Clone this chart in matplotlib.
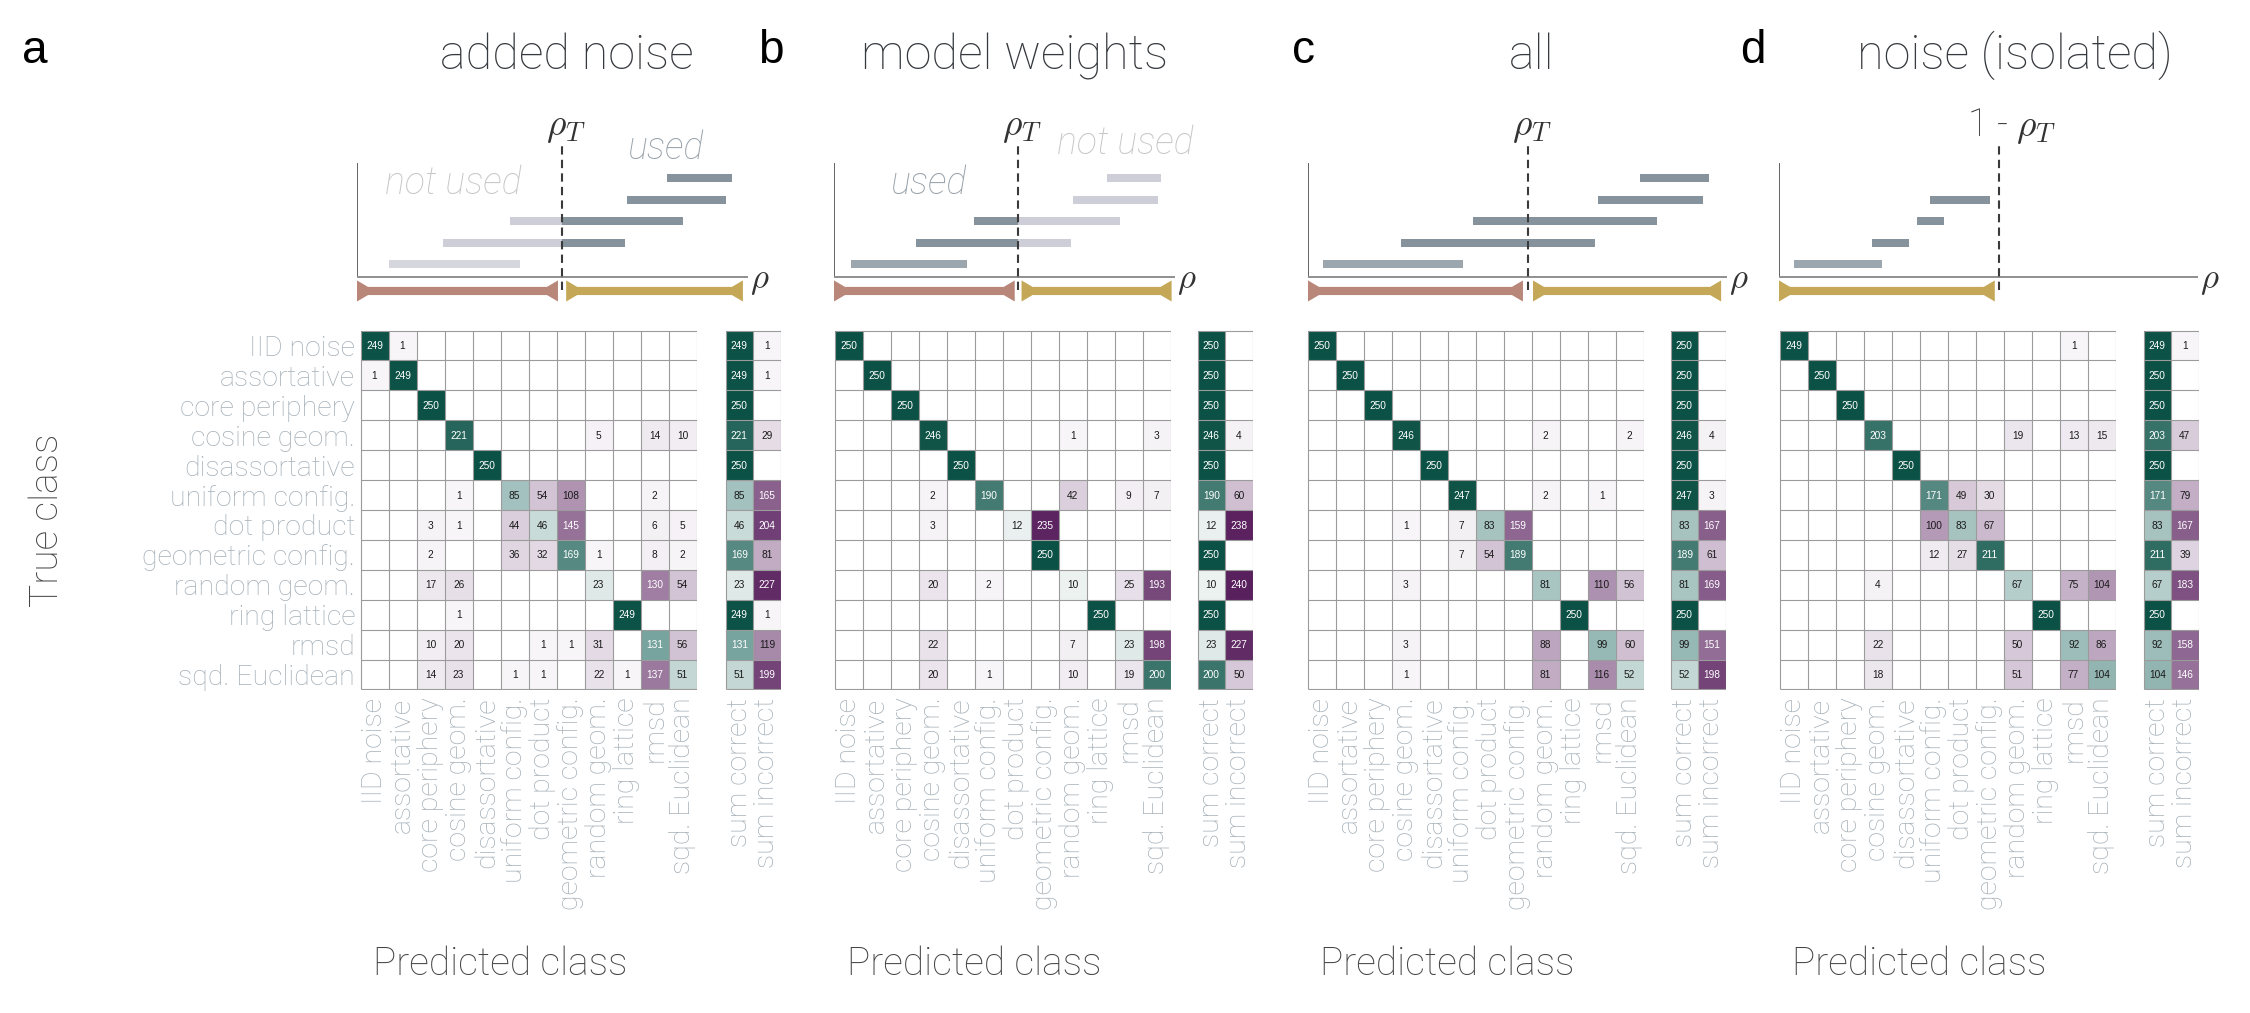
import numpy as np
import matplotlib
matplotlib.use("Agg")
import matplotlib.pyplot as plt
from matplotlib.colors import LinearSegmentedColormap, Normalize
from matplotlib.patches import Polygon
from matplotlib import font_manager

# ---------------------------------------------------------------- data
classes = ["IID noise", "assortative", "core periphery", "cosine geom.",
           "disassortative", "uniform config.", "dot product",
           "geometric config.", "random geom.", "ring lattice", "rmsd",
           "sqd. Euclidean"]
sum_labels = ["sum correct", "sum incorrect"]
titles = ["added noise", "model weights", "all", "noise (isolated)"]
letters = ["a", "b", "c", "d"]

# rows = true class, cols = predicted class
cm_added_noise = np.array([
    [249, 1, 0, 0, 0, 0, 0, 0, 0, 0, 0, 0],
    [1, 249, 0, 0, 0, 0, 0, 0, 0, 0, 0, 0],
    [0, 0, 250, 0, 0, 0, 0, 0, 0, 0, 0, 0],
    [0, 0, 0, 221, 0, 0, 0, 0, 5, 0, 14, 10],
    [0, 0, 0, 0, 250, 0, 0, 0, 0, 0, 0, 0],
    [0, 0, 0, 1, 0, 85, 54, 108, 0, 0, 2, 0],
    [0, 0, 3, 1, 0, 44, 46, 145, 0, 0, 6, 5],
    [0, 0, 2, 0, 0, 36, 32, 169, 1, 0, 8, 2],
    [0, 0, 17, 26, 0, 0, 0, 0, 23, 0, 130, 54],
    [0, 0, 0, 1, 0, 0, 0, 0, 0, 249, 0, 0],
    [0, 0, 10, 20, 0, 0, 1, 1, 31, 0, 131, 56],
    [0, 0, 14, 23, 0, 1, 1, 0, 22, 1, 137, 51]])

cm_model_weights = np.array([
    [250, 0, 0, 0, 0, 0, 0, 0, 0, 0, 0, 0],
    [0, 250, 0, 0, 0, 0, 0, 0, 0, 0, 0, 0],
    [0, 0, 250, 0, 0, 0, 0, 0, 0, 0, 0, 0],
    [0, 0, 0, 246, 0, 0, 0, 0, 1, 0, 0, 3],
    [0, 0, 0, 0, 250, 0, 0, 0, 0, 0, 0, 0],
    [0, 0, 0, 2, 0, 190, 0, 0, 42, 0, 9, 7],
    [0, 0, 0, 3, 0, 0, 12, 235, 0, 0, 0, 0],
    [0, 0, 0, 0, 0, 0, 0, 250, 0, 0, 0, 0],
    [0, 0, 0, 20, 0, 2, 0, 0, 10, 0, 25, 193],
    [0, 0, 0, 0, 0, 0, 0, 0, 0, 250, 0, 0],
    [0, 0, 0, 22, 0, 0, 0, 0, 7, 0, 23, 198],
    [0, 0, 0, 20, 0, 1, 0, 0, 10, 0, 19, 200]])

cm_all = np.array([
    [250, 0, 0, 0, 0, 0, 0, 0, 0, 0, 0, 0],
    [0, 250, 0, 0, 0, 0, 0, 0, 0, 0, 0, 0],
    [0, 0, 250, 0, 0, 0, 0, 0, 0, 0, 0, 0],
    [0, 0, 0, 246, 0, 0, 0, 0, 2, 0, 0, 2],
    [0, 0, 0, 0, 250, 0, 0, 0, 0, 0, 0, 0],
    [0, 0, 0, 0, 0, 247, 0, 0, 2, 0, 1, 0],
    [0, 0, 0, 1, 0, 7, 83, 159, 0, 0, 0, 0],
    [0, 0, 0, 0, 0, 7, 54, 189, 0, 0, 0, 0],
    [0, 0, 0, 3, 0, 0, 0, 0, 81, 0, 110, 56],
    [0, 0, 0, 0, 0, 0, 0, 0, 0, 250, 0, 0],
    [0, 0, 0, 3, 0, 0, 0, 0, 88, 0, 99, 60],
    [0, 0, 0, 1, 0, 0, 0, 0, 81, 0, 116, 52]])

cm_noise_isolated = np.array([
    [249, 0, 0, 0, 0, 0, 0, 0, 0, 0, 1, 0],
    [0, 250, 0, 0, 0, 0, 0, 0, 0, 0, 0, 0],
    [0, 0, 250, 0, 0, 0, 0, 0, 0, 0, 0, 0],
    [0, 0, 0, 203, 0, 0, 0, 0, 19, 0, 13, 15],
    [0, 0, 0, 0, 250, 0, 0, 0, 0, 0, 0, 0],
    [0, 0, 0, 0, 0, 171, 49, 30, 0, 0, 0, 0],
    [0, 0, 0, 0, 0, 100, 83, 67, 0, 0, 0, 0],
    [0, 0, 0, 0, 0, 12, 27, 211, 0, 0, 0, 0],
    [0, 0, 0, 4, 0, 0, 0, 0, 67, 0, 75, 104],
    [0, 0, 0, 0, 0, 0, 0, 0, 0, 250, 0, 0],
    [0, 0, 0, 22, 0, 0, 0, 0, 50, 0, 92, 86],
    [0, 0, 0, 18, 0, 0, 0, 0, 51, 0, 77, 104]])

matrices = [cm_added_noise, cm_model_weights, cm_all, cm_noise_isolated]

# schematic: rho ranges of the training models (bottom to top), threshold
sch_ranges = [
    [(0.082, 0.417), (0.22, 0.685), (0.391, 0.834), (0.69, 0.944), (0.793, 0.959)],
    [(0.05, 0.39), (0.24, 0.695), (0.41, 0.84), (0.70, 0.95), (0.80, 0.96)],
    [(0.036, 0.37), (0.222, 0.685), (0.394, 0.833), (0.692, 0.943), (0.792, 0.957)],
    [(0.036, 0.246), (0.222, 0.31), (0.33, 0.394), (0.36, 0.503)]]
sch_thresh = [0.524, 0.54, 0.525, 0.525]
sch_used = ["above", "below", "both", "both"]
sch_thr_label = [r"$\rho_T$", r"$\rho_T$", r"$\rho_T$", r"1 - $\rho_T$"]
sch_spans = [
    [(0.0, 0.514, "#b8877a"), (0.535, 0.987, "#c4a857")],
    [(0.0, 0.53, "#b8877a"), (0.55, 0.99, "#c4a857")],
    [(0.0, 0.513, "#b8877a"), (0.537, 0.986, "#c4a857")],
    [(0.0, 0.515, "#c4a857")]]

# ---------------------------------------------------------------- style
def pick_light_family():
    names = {"thin": 100, "extralight": 200, "extra-light": 200,
             "ultralight": 200, "light": 300}
    for fam in ["Roboto", "Lato", "Open Sans", "Inter", "Noto Sans"]:
        for f in font_manager.fontManager.ttflist:
            if f.name != fam:
                continue
            w = f.weight
            try:
                w = int(w)
            except (TypeError, ValueError):
                w = names.get(str(w).lower(), 400)
            if w <= 300:
                return fam
    return "DejaVu Sans"

LIGHT = pick_light_family()
plt.rcParams["font.family"] = [LIGHT, "DejaVu Sans"]
plt.rcParams["mathtext.fontset"] = "cm"

lab_col = "#a5b0b8"
green = LinearSegmentedColormap.from_list("g", ["#f4f8f7", "#7ea8a4", "#0c5145"])
purple = LinearSegmentedColormap.from_list("p", ["#f8f6f9", "#a383a6", "#531858"])
norm = Normalize(0, 250)

W, H = 2250, 1013
def rect(x, y, w, h):
    return [x / W, 1 - (y + h) / H, w / W, h / H]

fig = plt.figure(figsize=(22.5, 10.13), dpi=100)

mat_left = [360, 834, 1307, 1779]
sum_left = [725, 1197, 1670, 2143]
sch_left = [357, 834, 1308, 1779]
sch_len = [391, 341, 419, 419]
title_x = [567, 1015, 1532, 2015]
letter_x = [22, 758, 1292, 1740]
TOP, CELL_H, CELL_W = 330, 30, 28.1


def grid(ax, ncol):
    ax.vlines(np.arange(ncol + 1), 0, 12, color="#9b9b9b", lw=0.8, zorder=3)
    ax.hlines(np.arange(13), 0, ncol, color="#9b9b9b", lw=0.8, zorder=3)
    ax.set_xlim(-0.02, ncol + 0.02)
    ax.set_ylim(12.02, -0.02)
    for s in ax.spines.values():
        s.set_visible(False)
    ax.tick_params(length=0)


def cell_text(ax, data):
    for i in range(data.shape[0]):
        for j in range(data.shape[1]):
            v = data[i, j]
            if v > 0:
                ax.text(j + 0.5, i + 0.52, str(v), ha="center", va="center",
                        fontsize=7.3, family="Liberation Sans",
                        color="white" if v > 125 else "#1a1a1a", zorder=4)


def arrow_span(ax, x0, x1, color, ax_len):
    c, t, f = -0.65, 0.19, 0.49
    w = 11.0 / ax_len
    pts = [(x0, c + f), (x0 + w, c + t), (x1 - w, c + t), (x1, c + f),
           (x1, c - f), (x1 - w, c - t), (x0 + w, c - t), (x0, c - f)]
    ax.add_patch(Polygon(pts, closed=True, color=color, lw=0, clip_on=False))


for k, m in enumerate(matrices):
    # ---------------- confusion matrix
    ax = fig.add_axes(rect(mat_left[k], TOP, 12 * CELL_W, 12 * CELL_H))
    diag = np.eye(12, dtype=bool)
    ax.pcolormesh(np.ma.masked_where(~diag | (m == 0), m), cmap=green, norm=norm)
    ax.pcolormesh(np.ma.masked_where(diag | (m == 0), m), cmap=purple, norm=norm)
    grid(ax, 12)
    cell_text(ax, m)
    ax.set_xticks(np.arange(12) + 0.5)
    ax.set_xticklabels(classes, rotation=90, fontsize=20.5, color=lab_col,
                       fontweight="light")
    ax.tick_params(axis="x", pad=5.5)
    if k == 0:
        ax.set_yticks(np.arange(12) + 0.5)
        ax.set_yticklabels(classes, fontsize=20.5, color=lab_col, fontweight="light")
        ax.tick_params(axis="y", pad=3.5)
    else:
        ax.set_yticks([])

    # ---------------- sums
    sums = np.column_stack([np.diag(m), m.sum(axis=1) - np.diag(m)])
    axs = fig.add_axes(rect(sum_left[k], TOP, 2 * CELL_W, 12 * CELL_H))
    gcol = np.ma.masked_all(sums.shape)
    gcol[:, 0] = sums[:, 0]
    pcol = np.ma.masked_all(sums.shape)
    pcol[:, 1] = sums[:, 1]
    axs.pcolormesh(np.ma.masked_where(gcol == 0, gcol), cmap=green, norm=norm)
    axs.pcolormesh(np.ma.masked_where(pcol == 0, pcol), cmap=purple, norm=norm)
    grid(axs, 2)
    cell_text(axs, sums)
    axs.set_xticks([0.5, 1.5])
    axs.set_xticklabels(sum_labels, rotation=90, fontsize=20.5, color=lab_col,
                        fontweight="light")
    axs.tick_params(axis="x", pad=5.5)
    axs.set_yticks([])

    # ---------------- schematic
    L = sch_len[k]
    u = 21.5  # px per schematic y unit, axis line at y=0 (277 px)
    sch = fig.add_axes(rect(sch_left[k], 277 - 8 * u, L, 9.3 * u))
    sch.set_xlim(0, 1)
    sch.set_ylim(-1.3, 8)
    sch.axis("off")
    sch.plot([0, 0], [0, 5.3], color="#4a4a4a", lw=1.2, solid_capstyle="butt")
    sch.plot([0, 1], [0, 0], color="#8f8f8f", lw=1.4, solid_capstyle="butt")
    thr = sch_thresh[k]
    for i, (lo, hi) in enumerate(sch_ranges[k]):
        y = 0.6 + i
        dark = "#9ba6ae" if i == 0 else "#87939c"
        light = "#d6d7de" if i == 0 else "#cdced8"
        for a, b, side in [(lo, min(hi, thr), "below"), (max(lo, thr), hi, "above")]:
            if b > a:
                col = dark if sch_used[k] in (side, "both") else light
                sch.barh(y, b - a, left=a, height=0.37, color=col, lw=0)
    for x0, x1, col in sch_spans[k]:
        arrow_span(sch, x0, x1, col, L)
    sch.plot([thr, thr], [-0.62, 6.1], color="#3a3a3a", lw=1.5,
             ls=(0, (4, 2.5)), zorder=5)
    tx = thr + (0.03 if k == 3 else 0.01)
    sch.text(tx, 7.0, sch_thr_label[k], ha="center", va="center",
             fontsize=27, color="#333333", fontweight="light")
    sch.text(1.005, -0.15, r"$\rho$", ha="left", va="center", fontsize=25,
             color="#333333", clip_on=False)

    # ---------------- titles
    fig.text(title_x[k] / W, 1 - 69 / H, titles[k], ha="center",
             va="baseline", fontsize=35, color="#36393d", fontweight="light")
    fig.text(letter_x[k] / W, 1 - 63 / H, letters[k], ha="left",
             va="baseline", fontsize=33, color="black",
             family="Liberation Sans")
    fig.text((mat_left[k] + 140) / W, 1 - 975 / H, "Predicted class",
             ha="center", va="baseline", fontsize=28, color="#444444",
             fontweight="light")

# used / not used labels
def sch_text(x_px, y_px, s, col):
    fig.text(x_px / W, 1 - y_px / H, s, ha="left", va="center", fontsize=27,
             color=col, style="italic", fontweight="light")

sch_text(385, 183, "not used", "#c6c6c8")
sch_text(627, 148, "used", "#97a1a9")
sch_text(890, 183, "used", "#97a1a9")
sch_text(1057, 143, "not used", "#c6c6c8")

fig.text(47 / W, 1 - 520 / H, "True class", rotation=90, ha="center",
         va="center", fontsize=28, color="#444444", fontweight="light")

fig.savefig("out.png", dpi=100)
